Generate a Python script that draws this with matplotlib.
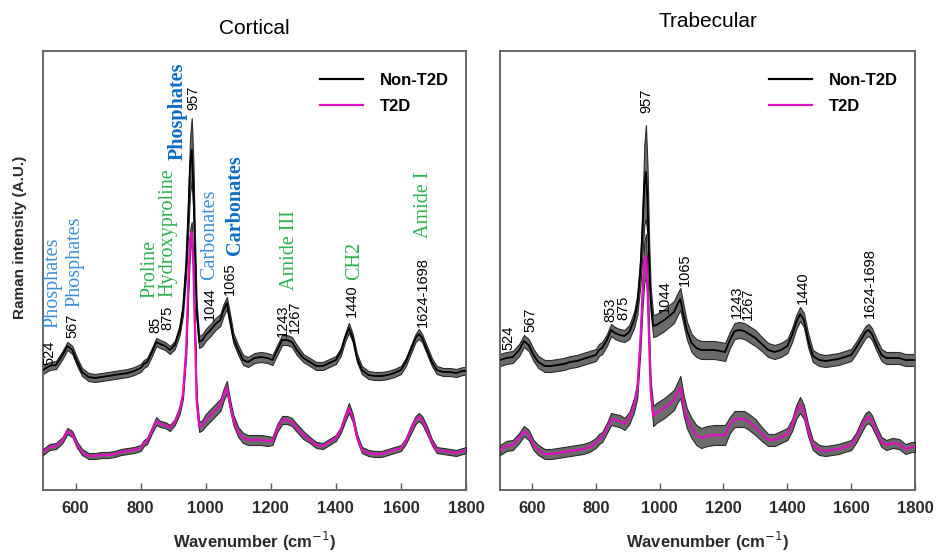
import matplotlib
matplotlib.use("Agg")
import matplotlib.pyplot as plt
import numpy as np

# ---------------- data ----------------
wavenumber = [500, 520, 540, 560, 575, 590, 605, 620, 640, 660,
              680, 700, 720, 740, 760, 780, 800, 810, 820, 835,
              848, 860, 875, 890, 905, 920, 930, 940, 947, 952,
              957, 962, 967, 972, 980, 990, 1000, 1015, 1030, 1045,
              1055, 1065, 1075, 1085, 1100, 1115, 1130, 1150, 1170, 1190,
              1205, 1220, 1235, 1250, 1265, 1280, 1300, 1320, 1340, 1360,
              1380, 1400, 1415, 1428, 1440, 1452, 1465, 1480, 1500, 1520,
              1540, 1560, 1580, 1600, 1615, 1630, 1645, 1655, 1665, 1680,
              1695, 1710, 1730, 1750, 1770, 1790, 1800]

cort_non_t2d = [120, 124, 125, 135, 144, 140, 128, 118, 113, 112,
                113, 114, 115, 116, 117, 119, 122, 126, 128, 138,
                148, 146, 144, 140, 145, 160, 180, 225, 280, 325,
                340, 305, 240, 180, 148, 150, 155, 160, 166, 170,
                180, 187, 170, 152, 140, 130, 128, 132, 133, 132,
                130, 140, 150, 150, 148, 140, 132, 128, 124, 124,
                127, 130, 138, 152, 162, 152, 132, 120, 115, 114,
                114, 115, 117, 120, 128, 140, 152, 156, 152, 140,
                128, 120, 118, 118, 117, 119, 119]
cort_non_t2d_sd = [4, 4, 4, 4, 4, 4, 4, 4, 4, 4,
                   4, 4, 4, 4, 4, 4, 4, 4, 4, 4,
                   4, 4, 4, 4, 4, 5, 6, 10, 18, 28,
                   32, 25, 15, 8, 6, 6, 6, 6, 6, 6,
                   6, 6, 6, 5, 5, 5, 5, 5, 5, 5,
                   5, 5, 5, 5, 5, 5, 4, 4, 4, 4,
                   4, 4, 4, 4, 5, 4, 4, 4, 4, 4,
                   4, 4, 4, 4, 4, 4, 4, 5, 4, 4,
                   4, 4, 4, 4, 4, 4, 4]
cort_t2d = [38, 43, 44, 50, 59, 56, 45, 38, 34, 34,
            35, 35, 36, 38, 39, 40, 42, 47, 49, 60,
            69, 66, 65, 62, 68, 80, 95, 140, 210, 250,
            258, 225, 160, 90, 63, 65, 70, 75, 80, 85,
            95, 103, 85, 70, 58, 52, 50, 50, 50, 49,
            49, 62, 70, 70, 68, 62, 55, 50, 45, 44,
            48, 52, 60, 72, 82, 72, 53, 40, 37, 36,
            36, 38, 40, 42, 49, 60, 70, 73, 70, 60,
            48, 40, 39, 38, 37, 39, 40]
cort_t2d_sd = [3, 3, 3, 3, 3, 3, 3, 3, 3, 3,
               3, 3, 3, 3, 3, 3, 3, 3, 3, 3,
               4, 3, 3, 3, 3, 4, 4, 6, 8, 10,
               10, 8, 6, 5, 5, 5, 6, 6, 6, 6,
               6, 6, 5, 5, 5, 5, 5, 5, 5, 5,
               4, 4, 4, 4, 4, 4, 4, 3, 3, 3,
               3, 3, 3, 4, 5, 4, 3, 3, 3, 3,
               3, 3, 3, 3, 3, 4, 4, 4, 4, 4,
               3, 3, 3, 3, 3, 3, 3]

trab_non_t2d = [130, 132, 133, 140, 149, 145, 135, 128, 124, 124,
                125, 126, 128, 129, 131, 133, 135, 140, 142, 150,
                160, 157, 155, 154, 158, 170, 185, 220, 265, 305,
                318, 290, 230, 190, 164, 165, 167, 170, 174, 178,
                185, 191, 175, 160, 147, 142, 140, 140, 140, 139,
                138, 150, 159, 160, 159, 156, 152, 146, 140, 138,
                140, 144, 155, 168, 176, 170, 150, 134, 130, 129,
                130, 131, 133, 135, 142, 150, 158, 160, 156, 145,
                135, 132, 132, 132, 130, 130, 130]
trab_non_t2d_sd = [6, 6, 6, 6, 6, 6, 6, 6, 6, 6,
                   6, 6, 6, 6, 6, 6, 6, 6, 6, 6,
                   6, 6, 6, 6, 7, 8, 10, 15, 25, 40,
                   47, 35, 20, 12, 11, 11, 11, 11, 11, 11,
                   11, 11, 10, 9, 9, 9, 9, 9, 9, 9,
                   9, 8, 8, 8, 8, 8, 8, 7, 7, 7,
                   7, 7, 7, 7, 7, 7, 7, 6, 6, 6,
                   6, 6, 6, 6, 6, 6, 6, 6, 6, 6,
                   6, 6, 6, 6, 6, 6, 6]
trab_t2d = [40, 44, 45, 52, 59, 55, 45, 40, 36, 36,
            37, 38, 39, 40, 41, 43, 47, 51, 53, 62,
            71, 70, 69, 66, 72, 85, 100, 150, 200, 228,
            234, 205, 150, 100, 74, 77, 79, 82, 86, 90,
            97, 103, 85, 72, 62, 55, 52, 54, 55, 55,
            55, 65, 71, 71, 71, 68, 63, 56, 50, 50,
            53, 56, 65, 78, 85, 78, 60, 45, 40, 39,
            40, 41, 43, 45, 52, 62, 71, 73, 69, 58,
            48, 45, 47, 46, 41, 43, 43]
trab_t2d_sd = [5, 5, 5, 5, 5, 5, 5, 5, 5, 5,
               5, 5, 5, 5, 5, 5, 5, 5, 5, 5,
               6, 6, 6, 6, 6, 7, 8, 10, 15, 20,
               22, 15, 10, 9, 10, 10, 10, 10, 10, 10,
               10, 11, 10, 10, 10, 10, 10, 10, 10, 10,
               10, 8, 8, 8, 8, 8, 8, 7, 6, 6,
               6, 6, 6, 7, 8, 7, 6, 5, 5, 5,
               5, 5, 5, 5, 5, 6, 6, 6, 6, 5,
               5, 5, 5, 5, 5, 5, 5]

x_ticks = [600, 800, 1000, 1200, 1400, 1600, 1800]
series_labels = ["Non-T2D", "T2D"]
panel_titles = ["Cortical", "Trabecular"]

# peak number labels: (text, x, y)
cort_peaks = [("524", 521, 125), ("567", 589, 152), ("85", 844, 157),
              ("875", 881, 160), ("957", 961, 380), ("1044", 1013, 170),
              ("1065", 1075, 195), ("1243", 1238, 153), ("1267", 1274, 157),
              ("1440", 1450, 173), ("1624-1698", 1668, 163)]
trab_peaks = [("524", 525, 140), ("567", 594, 158), ("853", 845, 168),
              ("875", 885, 170), ("957", 960, 377), ("1044", 1017, 177),
              ("1065", 1080, 204), ("1243", 1242, 172), ("1267", 1277, 170),
              ("1440", 1449, 186), ("1624-1698", 1659, 172)]
# assignment labels on cortical panel: (text, x, y, colour, bold)
cort_assign = [("Phosphates", 531, 162, "#3d8fd6", False),
               ("Phosphates", 598, 183, "#3d8fd6", False),
               ("Proline", 829, 192, "#2fb04f", False),
               ("Hydroxyproline", 884, 193, "#2fb04f", False),
               ("Phosphates", 915, 330, "#0a6cc4", True),
               ("Carbonates", 1013, 210, "#3d8fd6", False),
               ("Carbonates", 1090, 235, "#0a6cc4", True),
               ("Amide III", 1259, 200, "#2fb04f", False),
               ("CH2", 1459, 210, "#2fb04f", False),
               ("Amide I", 1668, 252, "#2fb04f", False)]

# ---------------- figure ----------------
W, H = 937, 556
fig = plt.figure(figsize=(W / 100, H / 100), dpi=100)
sans = "Liberation Sans"
serif = "Liberation Serif"

ax1 = fig.add_axes([43 / W, (H - 490) / H, 423 / W, 439 / H])
ax2 = fig.add_axes([500 / W, (H - 490) / H, 415 / W, 439 / H])

band_col = "#6b6b6b"
edge_col = "#2a2a2a"
mag = "#e010c0"

panels = [(ax1, cort_non_t2d, cort_non_t2d_sd, cort_t2d, cort_t2d_sd),
          (ax2, trab_non_t2d, trab_non_t2d_sd, trab_t2d, trab_t2d_sd)]
x = np.array(wavenumber)
for ax, n, nsd, t, tsd in panels:
    n = np.array(n); nsd = np.array(nsd)
    t = np.array(t); tsd = np.array(tsd)
    ax.fill_between(x, n - nsd, n + nsd, facecolor=band_col,
                    edgecolor=edge_col, linewidth=0.8, zorder=2)
    ax.plot(x, n, color="black", lw=1.3, zorder=3, label=series_labels[0])
    ax.fill_between(x, t - tsd, t + tsd, facecolor=band_col,
                    edgecolor=edge_col, linewidth=0.8, zorder=4)
    ax.plot(x, t, color=mag, lw=1.6, zorder=5, label=series_labels[1])
    ax.set_xlim(500, 1800)
    ax.set_ylim(0, 439)
    ax.set_yticks([])
    ax.set_xticks(x_ticks)
    ax.tick_params(axis="x", direction="in", length=5, width=1,
                   color="#555555", pad=8, top=False)
    for lab in ax.get_xticklabels():
        lab.set_fontfamily(sans)
        lab.set_fontweight("bold")
        lab.set_fontsize(12)
        lab.set_color("#2a2a2a")
    for s in ax.spines.values():
        s.set_color("#666666")
        s.set_linewidth(1.4)
    ax.set_xlabel("Wavenumber (cm$^{-1}$)", fontfamily=sans,
                  fontweight="bold", fontsize=12, color="#2a2a2a",
                  labelpad=10)
    leg = ax.legend(loc="upper right", frameon=False, handlelength=2.6,
                    handletextpad=1.0, labelspacing=0.7,
                    prop={"family": sans, "weight": "bold", "size": 12},
                    bbox_to_anchor=(0.995, 0.985))
    for ln in leg.get_lines():
        ln.set_linewidth(1.6)

ax1.set_title(panel_titles[0], fontfamily=sans, fontsize=15, pad=12)
ax2.set_title(panel_titles[1], fontfamily=sans, fontsize=15, pad=17)

fig.text(20 / W, 1 - 237 / H, "Raman intensity (A.U.)", rotation=90,
         ha="center", va="center", fontfamily=sans, fontweight="bold",
         fontsize=11, color="#2a2a2a")

for txt, px, py in cort_peaks:
    ax1.text(px, py, txt, rotation=90, ha="center", va="bottom",
             fontfamily=sans, fontsize=10.5, color="black", zorder=6)
for txt, px, py in trab_peaks:
    ax2.text(px, py, txt, rotation=90, ha="center", va="bottom",
             fontfamily=sans, fontsize=10.5, color="black", zorder=6)
for txt, px, py, col, bold in cort_assign:
    ax1.text(px, py, txt, rotation=90, ha="center", va="bottom",
             fontfamily=serif, fontsize=14.5, color=col,
             fontweight="bold" if bold else "normal", zorder=6)

fig.savefig("out.png", dpi=100)
